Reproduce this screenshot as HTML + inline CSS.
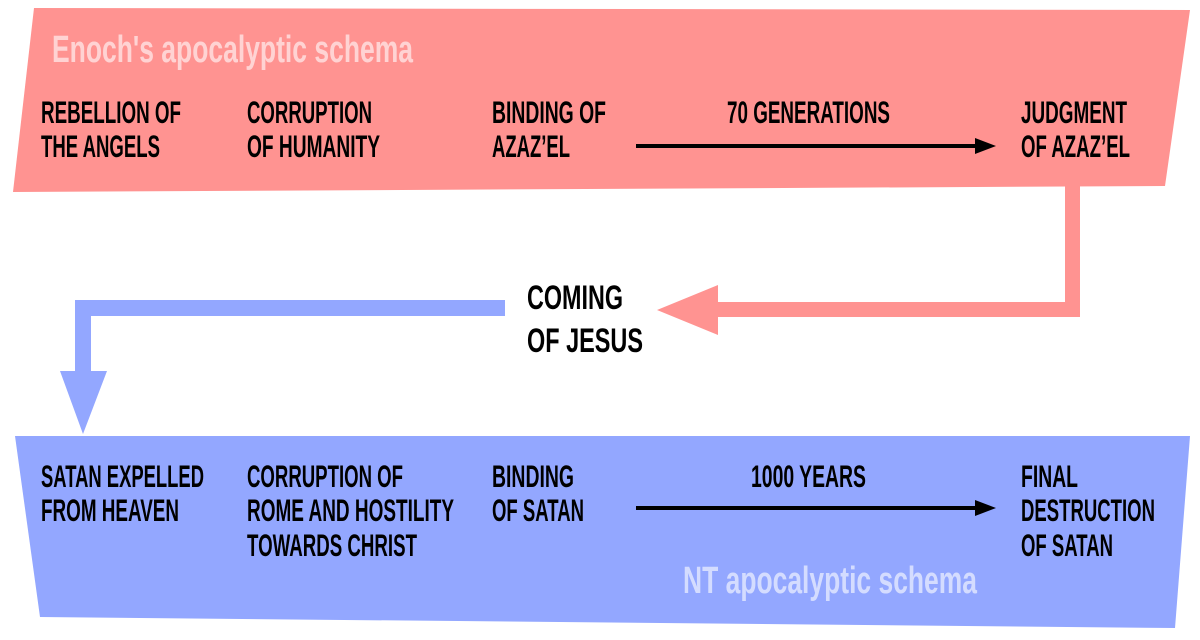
<!DOCTYPE html>
<html><head><meta charset="utf-8"><style>
html,body{margin:0;padding:0;background:#fff;width:1200px;height:640px;overflow:hidden}
text{font-family:"Liberation Sans Narrow","Liberation Sans",sans-serif;font-weight:bold}
</style></head><body>
<svg width="1200" height="640" viewBox="0 0 1200 640" xmlns="http://www.w3.org/2000/svg">
<polygon points="34,8 1190,10 1165,186 13,192" fill="#ff9391"/>
<polygon points="15,436 1190,436 1175,628 40,617" fill="#93a7ff"/>
<polygon points="1065,186 1080,186 1080,317 718,317 718,335 657,310 718,285 718,302 1065,302" fill="#ff9391"/>
<polygon points="505,300 505,316 91,316 91,371 107,371 83,434 60,371 75,371 75,300" fill="#93a7ff"/>
<line x1="636" y1="146" x2="978" y2="146" stroke="#000" stroke-width="4"/>
<polygon points="975,138 996,146 975,154" fill="#000"/>
<line x1="636" y1="508" x2="978" y2="508" stroke="#000" stroke-width="4"/>
<polygon points="975,500 996,508 975,516" fill="#000"/>
<g font-size="31.5" fill="#000">
<text x="41" y="123" textLength="140" lengthAdjust="spacingAndGlyphs">REBELLION OF</text>
<text x="41" y="157" textLength="119" lengthAdjust="spacingAndGlyphs">THE ANGELS</text>
<text x="247" y="123" textLength="125" lengthAdjust="spacingAndGlyphs">CORRUPTION</text>
<text x="247" y="157" textLength="133" lengthAdjust="spacingAndGlyphs">OF HUMANITY</text>
<text x="492" y="123" textLength="114" lengthAdjust="spacingAndGlyphs">BINDING OF</text>
<text x="492" y="157" textLength="78" lengthAdjust="spacingAndGlyphs">AZAZ’EL</text>
<text x="727" y="123" textLength="163" lengthAdjust="spacingAndGlyphs">70 GENERATIONS</text>
<text x="1021" y="123" textLength="106" lengthAdjust="spacingAndGlyphs">JUDGMENT</text>
<text x="1021" y="157" textLength="109" lengthAdjust="spacingAndGlyphs">OF AZAZ’EL</text>
<text x="527" y="309" font-size="34" textLength="96" lengthAdjust="spacingAndGlyphs">COMING</text>
<text x="527" y="352" font-size="34" textLength="116" lengthAdjust="spacingAndGlyphs">OF JESUS</text>
<text x="41" y="487" textLength="163" lengthAdjust="spacingAndGlyphs">SATAN EXPELLED</text>
<text x="41" y="521" textLength="138" lengthAdjust="spacingAndGlyphs">FROM HEAVEN</text>
<text x="247" y="487" textLength="156" lengthAdjust="spacingAndGlyphs">CORRUPTION OF</text>
<text x="247" y="521" textLength="207" lengthAdjust="spacingAndGlyphs">ROME AND HOSTILITY</text>
<text x="247" y="556" textLength="170" lengthAdjust="spacingAndGlyphs">TOWARDS CHRIST</text>
<text x="492" y="487" textLength="82" lengthAdjust="spacingAndGlyphs">BINDING</text>
<text x="492" y="521" textLength="92" lengthAdjust="spacingAndGlyphs">OF SATAN</text>
<text x="751" y="487" textLength="115" lengthAdjust="spacingAndGlyphs">1000 YEARS</text>
<text x="1021" y="487" textLength="57" lengthAdjust="spacingAndGlyphs">FINAL</text>
<text x="1021" y="521" textLength="134" lengthAdjust="spacingAndGlyphs">DESTRUCTION</text>
<text x="1021" y="556" textLength="92" lengthAdjust="spacingAndGlyphs">OF SATAN</text>
</g>
<text x="52" y="62" font-size="38" fill="#ffd3d3" textLength="361" lengthAdjust="spacingAndGlyphs">Enoch's apocalyptic schema</text>
<text x="683" y="593" font-size="38" fill="#d4dcff" textLength="294" lengthAdjust="spacingAndGlyphs">NT apocalyptic schema</text>
</svg>
</body></html>
